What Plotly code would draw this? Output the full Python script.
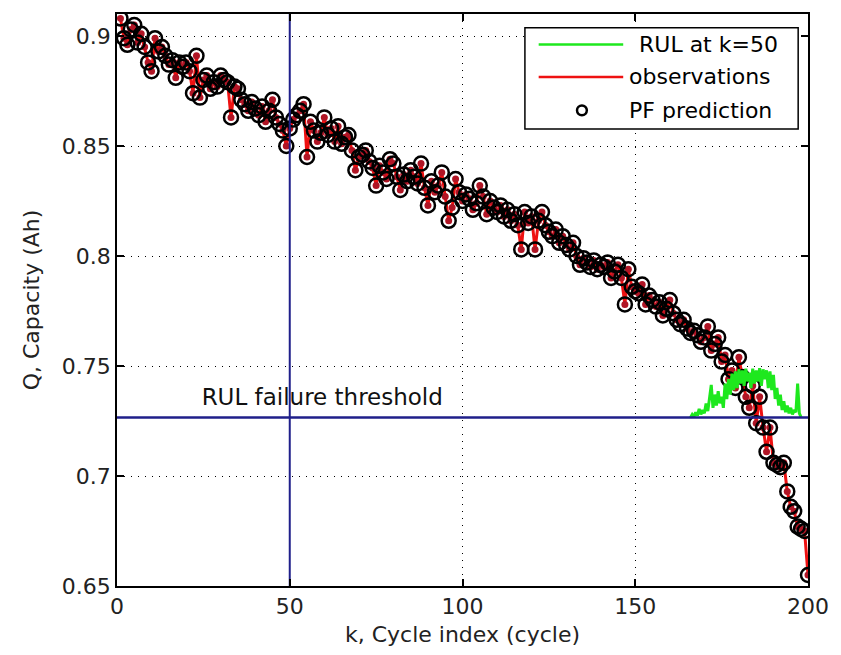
import plotly.graph_objects as go

# ---------------- data ----------------
cycles = list(range(1, 201))
capacity_obs = [
    0.908, 0.899, 0.896, 0.903, 0.905, 0.897, 0.901, 0.895, 0.888, 0.884,
    0.899, 0.893, 0.895, 0.891, 0.887, 0.889, 0.881, 0.888, 0.886, 0.888,
    0.884, 0.874, 0.891, 0.872, 0.880, 0.882, 0.876, 0.879, 0.877, 0.882,
    0.880, 0.879, 0.863, 0.877, 0.876, 0.871, 0.869, 0.866, 0.870, 0.867,
    0.864, 0.868, 0.861, 0.866, 0.871, 0.863, 0.860, 0.857, 0.850, 0.858,
    0.862, 0.864, 0.866, 0.869, 0.845, 0.861, 0.857, 0.852, 0.856, 0.863,
    0.855, 0.858, 0.852, 0.859, 0.851, 0.854, 0.855, 0.848, 0.839, 0.845,
    0.846, 0.848, 0.843, 0.840, 0.832, 0.841, 0.838, 0.835, 0.844, 0.842,
    0.836, 0.830, 0.837, 0.834, 0.839, 0.836, 0.833, 0.842, 0.831, 0.823,
    0.834, 0.829, 0.832, 0.838, 0.827, 0.816, 0.822, 0.835, 0.829, 0.825,
    0.828, 0.826, 0.821, 0.824, 0.832, 0.827, 0.819, 0.825, 0.822, 0.820,
    0.823, 0.818, 0.821, 0.816, 0.819, 0.814, 0.803, 0.820, 0.815, 0.818,
    0.803, 0.816, 0.820, 0.814, 0.811, 0.809, 0.812, 0.806, 0.809, 0.805,
    0.803, 0.806, 0.800, 0.796, 0.799, 0.797, 0.795, 0.798, 0.794, 0.796,
    0.795, 0.797, 0.790, 0.793, 0.796, 0.790, 0.778, 0.794, 0.786, 0.784,
    0.783, 0.787, 0.778, 0.782, 0.780, 0.777, 0.779, 0.773, 0.776, 0.780,
    0.774, 0.771, 0.769, 0.771, 0.767, 0.765, 0.766, 0.764, 0.761, 0.763,
    0.768, 0.757, 0.760, 0.763, 0.752, 0.755, 0.744, 0.748, 0.740, 0.754,
    0.745, 0.736, 0.731, 0.741, 0.724, 0.736, 0.722, 0.711, 0.722, 0.706,
    0.705, 0.704, 0.706, 0.693, 0.686, 0.684, 0.677, 0.676, 0.675, 0.655,
]
pf_prediction = list(capacity_obs)

rul_k = [166.0, 166.5, 167.0, 167.5, 168.0, 168.5, 169.0, 169.5, 170.0, 170.5,
         171.0, 171.5, 172.0, 172.5, 173.0, 173.5, 174.0, 174.5, 175.0, 175.5,
         176.0, 176.5, 177.0, 177.5, 178.0, 178.5, 179.0, 179.5, 180.0, 180.5,
         181.0, 181.5, 182.0, 182.5, 183.0, 183.5, 184.0, 184.5, 185.0, 185.5,
         186.0, 186.5, 187.0, 187.5, 188.0, 188.5, 189.0, 189.5, 190.0, 190.5,
         191.0, 191.5, 192.0, 192.5, 193.0, 193.5, 194.0, 194.5, 195.0, 195.5,
         196.0, 196.5, 197.0, 197.5, 198.0]
rul_curve = [0.7266, 0.7280, 0.7270, 0.7290, 0.7275, 0.7305, 0.7280, 0.7300, 0.7285, 0.7330,
             0.7295, 0.7360, 0.7414, 0.7310, 0.7370, 0.7320, 0.7385, 0.7330, 0.7360, 0.7310,
             0.7420, 0.7350, 0.7440, 0.7370, 0.7465, 0.7390, 0.7475, 0.7400, 0.7485, 0.7420,
             0.7480, 0.7410, 0.7488, 0.7430, 0.7470, 0.7400, 0.7488, 0.7420, 0.7480, 0.7430,
             0.7490, 0.7410, 0.7485, 0.7440, 0.7480, 0.7400, 0.7475, 0.7390, 0.7460, 0.7350,
             0.7400, 0.7320, 0.7370, 0.7300, 0.7340, 0.7290, 0.7320, 0.7285, 0.7310, 0.7280,
             0.7300, 0.7290, 0.7420, 0.7285, 0.7268]

threshold = 0.7266
k_start = 50
x_range = [0, 200]
y_range = [0.65, 0.91]
x_ticks = [0, 50, 100, 150, 200]
y_ticks = [0.65, 0.7, 0.75, 0.8, 0.85, 0.9]

FONT = "DejaVu Sans"
FS = 22
NAVY = "#1f1f8a"
RED = "#ee1111"
GREEN = "#1ee81e"

fig = go.Figure()

# observations (red line + red dots)
fig.add_trace(go.Scatter(x=cycles, y=capacity_obs, mode="lines",
                         line=dict(color=RED, width=3), showlegend=False))
fig.add_trace(go.Scatter(x=cycles, y=capacity_obs, mode="markers",
                         marker=dict(color="#b01525", size=7), showlegend=False))
# PF prediction circles
fig.add_trace(go.Scatter(x=cycles, y=pf_prediction, mode="markers",
                         marker=dict(symbol="circle-open", size=14, color="black",
                                     line=dict(width=2.5, color="black")),
                         showlegend=False))
# RUL pdf (jagged green curve sitting on the threshold)
fig.add_trace(go.Scatter(x=rul_k, y=rul_curve, mode="lines",
                         line=dict(color=GREEN, width=3), showlegend=False))
# threshold text
fig.add_trace(go.Scatter(x=[24.5], y=[0.7351], mode="text",
                         text=["RUL failure threshold"], textposition="middle right",
                         textfont=dict(family=FONT, size=23, color="#111111"),
                         showlegend=False))
# threshold & k=50 lines
fig.add_trace(go.Scatter(x=x_range, y=[threshold, threshold], mode="lines",
                         line=dict(color=NAVY, width=2.5), showlegend=False))
fig.add_trace(go.Scatter(x=[k_start, k_start], y=y_range, mode="lines",
                         line=dict(color=NAVY, width=2), showlegend=False))

# ---------------- manual legend (MATLAB style) ----------------
L, R, T, B = 117, 820, 12, 594
def px(x):
    return (x - L) / (R - L)
def py(y):
    return (B - y) / (B - T)

shapes = [
    dict(type="rect", xref="paper", yref="paper", x0=px(532), x1=px(810),
         y0=py(129), y1=py(26), fillcolor="white", line=dict(color="black", width=1.5),
         layer="above"),
    dict(type="line", xref="paper", yref="paper", x0=px(546), x1=px(632),
         y0=py(43), y1=py(43), line=dict(color=GREEN, width=2.5), layer="above"),
    dict(type="line", xref="paper", yref="paper", x0=px(546), x1=px(632),
         y0=py(76), y1=py(76), line=dict(color=RED, width=2.5), layer="above"),
    dict(type="circle", xref="paper", yref="paper", x0=px(585), x1=px(595),
         y0=py(115), y1=py(105), line=dict(color="black", width=2.5), layer="above"),
]
annotations = [
    dict(xref="paper", yref="paper", x=px(646), y=py(43), text="RUL at k=50",
         showarrow=False, xanchor="left", yanchor="middle",
         font=dict(family=FONT, size=FS, color="black")),
    dict(xref="paper", yref="paper", x=px(636), y=py(76), text="observations",
         showarrow=False, xanchor="left", yanchor="middle",
         font=dict(family=FONT, size=FS, color="black")),
    dict(xref="paper", yref="paper", x=px(636), y=py(110), text="PF prediction",
         showarrow=False, xanchor="left", yanchor="middle",
         font=dict(family=FONT, size=FS, color="black")),
]

axis_common = dict(
    showline=True, linecolor="black", linewidth=1.5, mirror="ticks",
    ticks="inside", ticklen=7, tickwidth=1.5, tickcolor="black",
    showgrid=True, gridcolor="black", gridwidth=1, griddash="1px,6px",
    zeroline=False, tickfont=dict(family=FONT, size=FS, color="#222222"),
)

fig.update_layout(
    width=841, height=655,
    margin=dict(l=L, r=841 - R, t=T, b=655 - B),
    paper_bgcolor="white", plot_bgcolor="white",
    showlegend=False,
    shapes=shapes, annotations=annotations,
    xaxis=dict(range=x_range, tickvals=x_ticks, **axis_common,
               title=dict(text="k, Cycle index (cycle)", standoff=8,
                          font=dict(family=FONT, size=FS, color="#222222"))),
    yaxis=dict(range=y_range, tickvals=y_ticks, **axis_common,
               title=dict(text="Q, Capacity (Ah)", standoff=16,
                          font=dict(family=FONT, size=FS, color="#222222"))),
)

fig.write_html("out.html")
